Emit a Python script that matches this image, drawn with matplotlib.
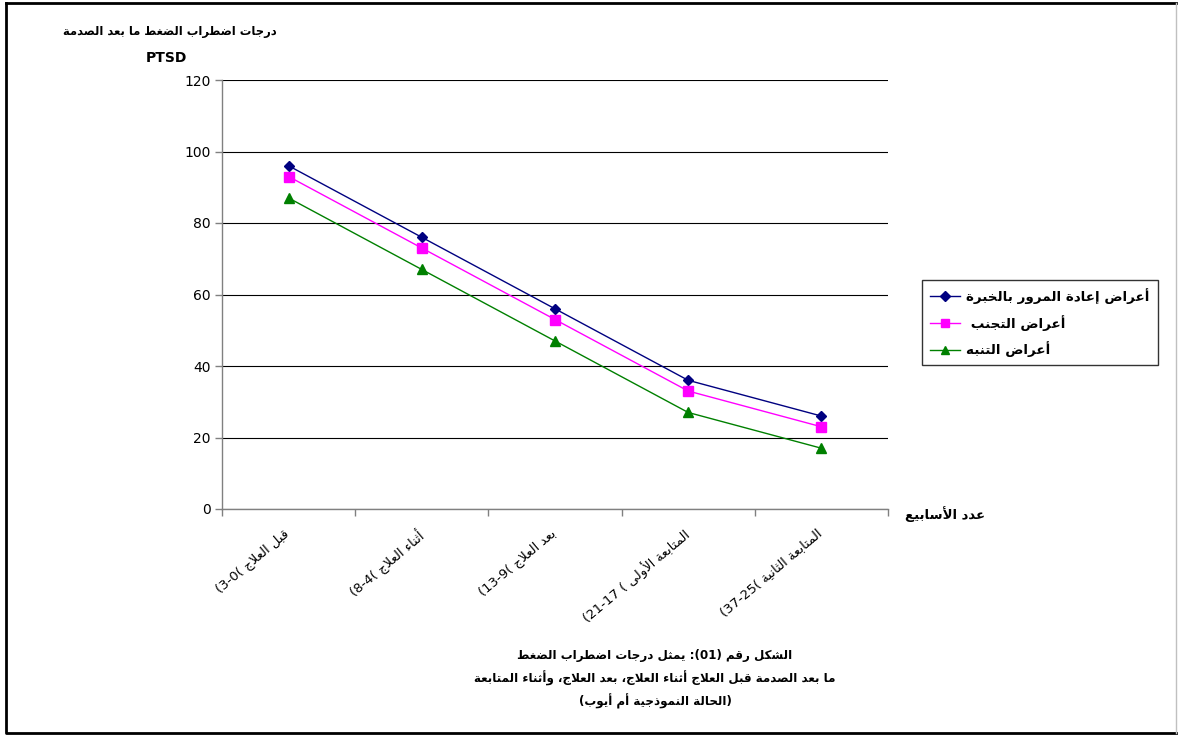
"""PTSD scores over the treatment phases"""

import re

import matplotlib
matplotlib.use('Agg')
from matplotlib import pyplot as plt
from matplotlib import transforms
from matplotlib.lines import Line2D
import numpy as np

plt.rcParams['font.family'] = ['DejaVu Sans']

phases = ['قبل العلاج', 'أثناء العلاج', 'بعد العلاج',
          'المتابعة الأولى', 'المتابعة الثانية']
weeks = ['3-0', '8-4', '13-9', '21-17 ', '37-25']

reexperiencing = [96, 76, 56, 36, 26]
avoidance = [93, 73, 53, 33, 23]
arousal = [87, 67, 47, 27, 17]

series_names = ['أعراض إعادة المرور بالخبرة', 'أعراض التجنب ', 'أعراض التنبه']

y_title = 'درجات اضطراب الضغط ما بعد الصدمة'
x_title = 'عدد الأسابيع'
caption = ['الشكل رقم (01): يمثل درجات اضطراب الضغط',
           'ما بعد الصدمة قبل العلاج أثناء العلاج، بعد العلاج، وأثناء المتابعة',
           '(الحالة النموذجية أم أيوب)']

# isolated, final, initial, medial presentation forms
FORMS = {
    'ء': (0xFE80, None, None, None),
    'آ': (0xFE81, 0xFE82, None, None),
    'أ': (0xFE83, 0xFE84, None, None),
    'ؤ': (0xFE85, 0xFE86, None, None),
    'إ': (0xFE87, 0xFE88, None, None),
    'ئ': (0xFE89, 0xFE8A, 0xFE8B, 0xFE8C),
    'ا': (0xFE8D, 0xFE8E, None, None),
    'ب': (0xFE8F, 0xFE90, 0xFE91, 0xFE92),
    'ة': (0xFE93, 0xFE94, None, None),
    'ت': (0xFE95, 0xFE96, 0xFE97, 0xFE98),
    'ث': (0xFE99, 0xFE9A, 0xFE9B, 0xFE9C),
    'ج': (0xFE9D, 0xFE9E, 0xFE9F, 0xFEA0),
    'ح': (0xFEA1, 0xFEA2, 0xFEA3, 0xFEA4),
    'خ': (0xFEA5, 0xFEA6, 0xFEA7, 0xFEA8),
    'د': (0xFEA9, 0xFEAA, None, None),
    'ذ': (0xFEAB, 0xFEAC, None, None),
    'ر': (0xFEAD, 0xFEAE, None, None),
    'ز': (0xFEAF, 0xFEB0, None, None),
    'س': (0xFEB1, 0xFEB2, 0xFEB3, 0xFEB4),
    'ش': (0xFEB5, 0xFEB6, 0xFEB7, 0xFEB8),
    'ص': (0xFEB9, 0xFEBA, 0xFEBB, 0xFEBC),
    'ض': (0xFEBD, 0xFEBE, 0xFEBF, 0xFEC0),
    'ط': (0xFEC1, 0xFEC2, 0xFEC3, 0xFEC4),
    'ظ': (0xFEC5, 0xFEC6, 0xFEC7, 0xFEC8),
    'ع': (0xFEC9, 0xFECA, 0xFECB, 0xFECC),
    'غ': (0xFECD, 0xFECE, 0xFECF, 0xFED0),
    'ف': (0xFED1, 0xFED2, 0xFED3, 0xFED4),
    'ق': (0xFED5, 0xFED6, 0xFED7, 0xFED8),
    'ك': (0xFED9, 0xFEDA, 0xFEDB, 0xFEDC),
    'ل': (0xFEDD, 0xFEDE, 0xFEDF, 0xFEE0),
    'م': (0xFEE1, 0xFEE2, 0xFEE3, 0xFEE4),
    'ن': (0xFEE5, 0xFEE6, 0xFEE7, 0xFEE8),
    'ه': (0xFEE9, 0xFEEA, 0xFEEB, 0xFEEC),
    'و': (0xFEED, 0xFEEE, None, None),
    'ى': (0xFEEF, 0xFEF0, None, None),
    'ي': (0xFEF1, 0xFEF2, 0xFEF3, 0xFEF4),
}
LAM_ALEF = {'آ': (0xFEF5, 0xFEF6), 'أ': (0xFEF7, 0xFEF8),
            'إ': (0xFEF9, 0xFEFA), 'ا': (0xFEFB, 0xFEFC)}


def joins_next(ch):
    form = FORMS.get(ch)
    return form is not None and form[2] is not None


def shape(text):
    """Swaps Arabic letters for their contextual forms"""
    out = []
    i = 0
    while i < len(text):
        ch = text[i]
        if ch not in FORMS:
            out.append(ch)
            i += 1
            continue
        after = i > 0 and joins_next(text[i - 1])
        nxt = text[i + 1] if i + 1 < len(text) else ''
        if ch == 'ل' and nxt in LAM_ALEF:
            iso, fin = LAM_ALEF[nxt]
            out.append(chr(fin if after else iso))
            i += 2
            continue
        iso, fin, ini, med = FORMS[ch]
        before = ini is not None and nxt in FORMS and nxt != 'ء'
        if after and before:
            code = med
        elif after and fin is not None:
            code = fin
        elif before:
            code = ini
        else:
            code = iso
        out.append(chr(code))
        i += 1
    return ''.join(out)


def rtl(text):
    """Shaped text in display order, numbers kept left to right"""
    s = shape(text)[::-1].translate(str.maketrans('()', ')('))
    return re.sub(r'[0-9A-Za-z]+(?:[-.][0-9A-Za-z]+)*',
                  lambda m: m.group(0)[::-1], s)


def ptsd_chart():
    """Line chart of the three symptom scores per phase"""

    fig = plt.figure(figsize=(11.78, 7.35), dpi=100)
    W, H = 1178, 735
    ax = fig.add_axes([222 / W, 1 - 509 / H, (888 - 222) / W, (509 - 80) / H])

    x = np.arange(len(phases))
    styles = [('#000080', 'D', 5.5), ('#FF00FF', 's', 6.5), ('#008000', '^', 7)]
    for values, (color, marker, size), name in zip(
            [reexperiencing, avoidance, arousal], styles, series_names):
        ax.plot(x, values, color=color, lw=1, marker=marker, ms=size,
                mec=color, mfc=color, label=rtl(name), clip_on=False)

    ax.set_xlim(-0.5, len(phases) - 0.5)
    ax.set_ylim(0, 120)
    ax.set_yticks(range(0, 121, 20))
    ax.tick_params(axis='y', labelsize=10, length=5, width=1, color='#808080',
                   pad=3)
    ax.yaxis.grid(True, color='black', lw=0.8)
    ax.set_axisbelow(True)

    ax.set_xticks(np.arange(-0.5, len(phases)), [''] * (len(phases) + 1))
    ax.tick_params(axis='x', length=5, width=1, color='#808080')
    labels = ['(' + w + '( ' + rtl(p) for p, w in zip(phases, weeks)]
    ax.set_xticks(x, labels, minor=True)
    ax.tick_params(axis='x', which='minor', length=0, labelsize=9.5, pad=13)
    shift = transforms.ScaledTranslation(-5 / 100, 0, fig.dpi_scale_trans)
    for lbl in ax.get_xticklabels(minor=True):
        lbl.set_rotation(40)
        lbl.set_rotation_mode('anchor')
        lbl.set_ha('right')
        lbl.set_va('top')
        lbl.set_transform(lbl.get_transform() + shift)

    for side in ['top', 'right']:
        ax.spines[side].set_visible(False)
    for side in ['left', 'bottom']:
        ax.spines[side].set_color('#808080')
        ax.spines[side].set_linewidth(1)

    handles = [Line2D([], [], color=c, marker=m, ms=s * 0.9, lw=1, mec=c, mfc=c)
               for c, m, s in styles]
    leg = fig.legend(handles, [rtl(n) for n in series_names],
                     loc='upper left', bbox_to_anchor=(922 / W, 1 - 280 / H),
                     borderaxespad=0, frameon=True, fancybox=False,
                     edgecolor='black', prop={'weight': 'bold', 'size': 9.7},
                     handlelength=2.2, handletextpad=0.5, borderpad=0.6,
                     labelspacing=0.8)
    leg.get_frame().set_linewidth(1)

    fig.text(170 / W, 1 - 32 / H, rtl(y_title), ha='center', va='center',
             fontsize=8.3, fontweight='bold')
    fig.text(166 / W, 1 - 58 / H, 'PTSD', ha='center', va='center',
             fontsize=10, fontweight='bold')
    fig.text(945 / W, 1 - 514 / H, rtl(x_title), ha='center', va='center',
             fontsize=9.5, fontweight='bold')
    for k, line in enumerate(caption):
        fig.text(655 / W, 1 - (656 + 22.5 * k) / H, rtl(line),
                 ha='center', va='center', fontsize=8.6, fontweight='bold')

    # page frame round the chart
    fig.add_artist(plt.Line2D([6 / W, 6 / W, 1176 / W], [1 - 3 / H, 1 - 733 / H, 1 - 733 / H],
                              color='black', lw=2))
    fig.add_artist(plt.Line2D([6 / W, 1176 / W], [1 - 3 / H, 1 - 3 / H],
                              color='black', lw=2))
    fig.add_artist(plt.Line2D([1176 / W, 1176 / W], [1 - 3 / H, 1 - 733 / H],
                              color='#c0c0c0', lw=1))

    fig.savefig('out.png', dpi=100)


if __name__ == "__main__":
    ptsd_chart()
